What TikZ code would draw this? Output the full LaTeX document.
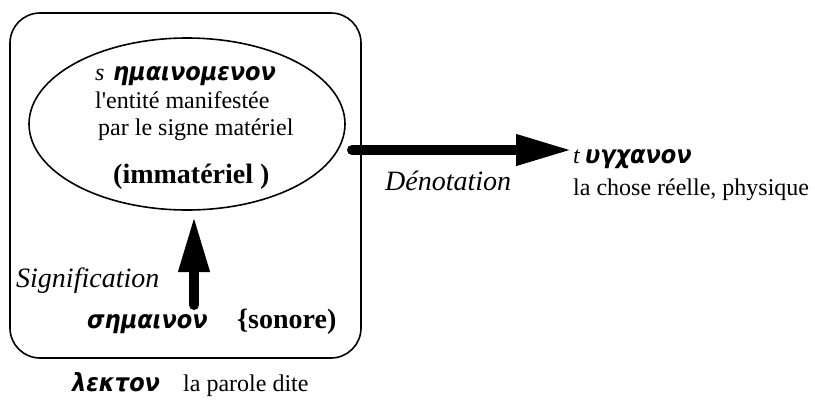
\documentclass[tikz,border=0pt]{standalone}
\usepackage{fontspec}
\setmainfont{Liberation Serif}
\newfontfamily\greekfont{DejaVu Sans Condensed}
\usetikzlibrary{shapes.geometric,arrows.meta}
\tikzset{
  txt/.style={inner sep=0pt, anchor=base west, font=\fontsize{24}{27}\selectfont},
  ital/.style={inner sep=0pt, anchor=base west, font=\fontsize{24}{27}\selectfont\itshape},
  lbl/.style={inner sep=0pt, anchor=base west, font=\fontsize{28}{32}\selectfont\itshape},
  grk/.style={inner sep=0pt, anchor=base west, font=\fontsize{25}{29}\selectfont\greekfont\bfseries\itshape},
  bold/.style={inner sep=0pt, anchor=base west, font=\fontsize{28}{32}\selectfont\bfseries},
  bigarrow/.style={line width=10pt, line cap=round, -{Triangle[length=56pt,width=29pt]}},
}
\begin{document}
\begin{tikzpicture}[x=1pt,y=-1pt]
\useasboundingbox (0,0) rectangle (815,400);
% the outer box of the lekton
\node[draw, line width=1.6pt, rounded corners=30pt, minimum width=351pt, minimum height=345pt] (box) at (185.5,185.5) {};
% the signified
\node[draw, ellipse, line width=1.6pt, minimum width=316pt, minimum height=172pt] (sem) at (187,124) {};
\node[ital] (s) at (95,80) {s};
\node[grk] (sgr) at (113,80) {ημαινομενον};
\node[txt] (l1) at (95,108) {l\textquotesingle entité manifestée};
\node[txt] (l2) at (98,135) {par le signe matériel};
\node[bold] (imm) at (113,183) {(immatériel )};
% the signifier
\node[lbl] (sig) at (16,287) {Signification};
\node[grk] (sem2) at (87,328) {σημαινον};
\node[bold] (son) at (237,328) {\{sonore)};
\coordinate (sigfoot) at (194,305);
\coordinate (sigtip) at (194,216);
\draw[bigarrow] (sigfoot) -- (sigtip);
% the lekton label
\node[grk] (lek) at (72,391) {λεκτον};
\node[txt] (par) at (183,391) {la parole dite};
% the referent
\coordinate (denfoot) at (352,150);
\coordinate (dentip) at (572,150);
\draw[bigarrow] (denfoot) -- (dentip);
\node[lbl] (den) at (385,190) {Dénotation};
\node[ital] (t) at (573,163) {t};
\node[grk] (tgr) at (585,163) {υγχανον};
\node[txt] (cho) at (573,195) {la chose réelle, physique};
\end{tikzpicture}
\end{document}
